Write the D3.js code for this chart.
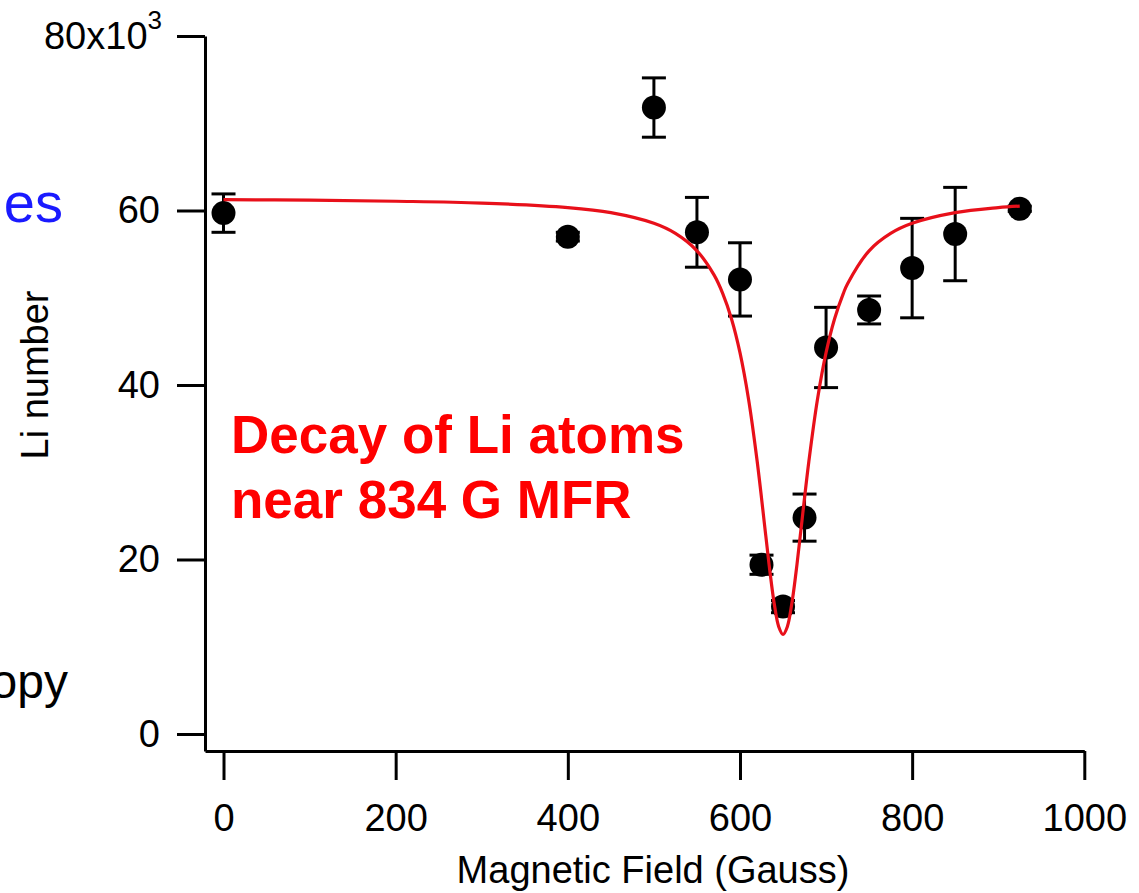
<!DOCTYPE html>
<html>
<head>
<meta charset="utf-8">
<script src="https://cdn.jsdelivr.net/npm/d3@7"></script>
<style>
  html, body { margin: 0; padding: 0; background: #ffffff; }
  svg { display: block; }
  text { font-family: "Liberation Sans", Arial, Helvetica, sans-serif; }
</style>
</head>
<body>
<svg id="chart" width="1139" height="893"></svg>
<script>
// ---- data ----
const fieldGauss = [0, 400, 500, 550, 600, 625, 650, 675, 700, 750, 800, 850, 925];
const liNumberK  = [59.7, 57.0, 71.8, 57.5, 52.1, 19.4, 14.6, 24.8, 44.3, 48.6, 53.4, 57.3, 60.2];
const liErrorK   = [2.2, 0.5, 3.4, 4.0, 4.2, 1.1, 0.7, 2.7, 4.6, 1.6, 5.7, 5.35, 0.3];

const fitField = [0, 100, 200, 300, 400, 450, 500, 525, 550, 570, 580, 590, 600, 610, 620, 630, 635, 640, 645, 650,
                  655, 660, 665, 670, 680, 690, 700, 710, 720, 725, 750, 775, 800, 850, 900, 925];
const fitLiK     = [61.24, 61.18, 61.06, 60.85, 60.33, 59.75, 58.53, 57.37, 55.38, 52.59, 50.48, 47.63, 43.71, 38.35, 31.23, 22.7, 18.45, 14.8, 12.3, 11.4,
                  12.3, 14.8, 18.45, 22.7, 31.23, 38.35, 43.71, 47.63, 50.48, 51.61, 55.38, 57.37, 58.53, 59.75, 60.33, 60.51];

const xTicks = [0, 200, 400, 600, 800, 1000];
const yTicks = [0, 20, 40, 60, 80];

const xTitle = "Magnetic Field (Gauss)";
const yTitle = "Li number";
const noteLines = ["Decay of Li atoms", "near 834 G MFR"];

// ---- layout ----
const svg = d3.select("#chart");
const x = d3.scaleLinear().domain([-21.5, 1000]).range([205, 1084.3]);
const y = d3.scaleLinear().domain([-1.95, 80]).range([751, 36]);

// cut-off slide texts at left edge
svg.append("text").attr("x", 63).attr("y", 222).attr("text-anchor", "end")
  .attr("font-size", 56).attr("fill", "#1a1aff").text("es");
svg.append("text").attr("x", 68).attr("y", 698).attr("text-anchor", "end")
  .attr("font-size", 48).attr("fill", "#000").text("opy");

// axes
const xAxis = d3.axisBottom(x).tickValues(xTicks).tickSize(29).tickSizeOuter(0).tickPadding(24)
  .tickFormat(d3.format("d"));
const gx = svg.append("g").attr("transform", "translate(0,751)").call(xAxis);
gx.selectAll("text").attr("font-size", 38).attr("fill", "#000")
  .style("font-family", '"Liberation Sans", Arial, sans-serif');

const yAxis = d3.axisLeft(y).tickValues(yTicks).tickSize(28).tickSizeOuter(0).tickPadding(17)
  .tickFormat(d => d === 80 ? "" : d3.format("d")(d));
const gy = svg.append("g").attr("transform", "translate(205,0)").call(yAxis);
gy.selectAll("text").attr("font-size", 38).attr("fill", "#000")
  .style("font-family", '"Liberation Sans", Arial, sans-serif');
// top tick label with exponent
gy.selectAll(".tick").filter(d => d === 80).select("text")
  .attr("x", -43)
  .call(t => {
    t.append("tspan").text("80x10");
    t.append("tspan").attr("font-size", 26).attr("dy", "-0.75em").text("3");
  });

[gx, gy].forEach(g => {
  g.selectAll("path.domain").attr("stroke", "#000").attr("stroke-width", 3);
  g.selectAll(".tick line").attr("stroke", "#000").attr("stroke-width", 3);
});

// axis titles
svg.append("text").attr("x", 653).attr("y", 883).attr("text-anchor", "middle")
  .attr("font-size", 38).attr("fill", "#000").text(xTitle);
svg.append("text").attr("transform", "translate(48,375) rotate(-90)").attr("text-anchor", "middle")
  .attr("font-size", 38).attr("fill", "#000").text(yTitle);

// error bars
const pts = fieldGauss.map((f, i) => ({ f, v: liNumberK[i], e: liErrorK[i] }));
const eb = svg.append("g").attr("stroke", "#000").attr("stroke-width", 3);
pts.forEach(p => {
  const cx = x(p.f), top = y(p.v + p.e), bot = y(p.v - p.e);
  eb.append("line").attr("x1", cx).attr("x2", cx).attr("y1", top).attr("y2", bot);
  eb.append("line").attr("x1", cx - 12).attr("x2", cx + 12).attr("y1", top).attr("y2", top);
  eb.append("line").attr("x1", cx - 12).attr("x2", cx + 12).attr("y1", bot).attr("y2", bot);
});

// markers
svg.append("g").selectAll("circle").data(pts).join("circle")
  .attr("cx", d => x(d.f)).attr("cy", d => y(d.v)).attr("r", 12).attr("fill", "#000");

// fit curve
const fit = fitField.map((f, i) => [f, fitLiK[i]]);
svg.append("path").datum(fit)
  .attr("d", d3.line().x(d => x(d[0])).y(d => y(d[1])).curve(d3.curveCatmullRom.alpha(0.5)))
  .attr("fill", "none").attr("stroke", "#e8101a").attr("stroke-width", 3.2);

// annotation
const note = svg.append("text").attr("font-size", 53).attr("font-weight", "bold").attr("fill", "#ff0000");
noteLines.forEach((t, i) => note.append("tspan").attr("x", 231).attr("y", 453 + i * 65).text(t));
</script>
</body>
</html>
